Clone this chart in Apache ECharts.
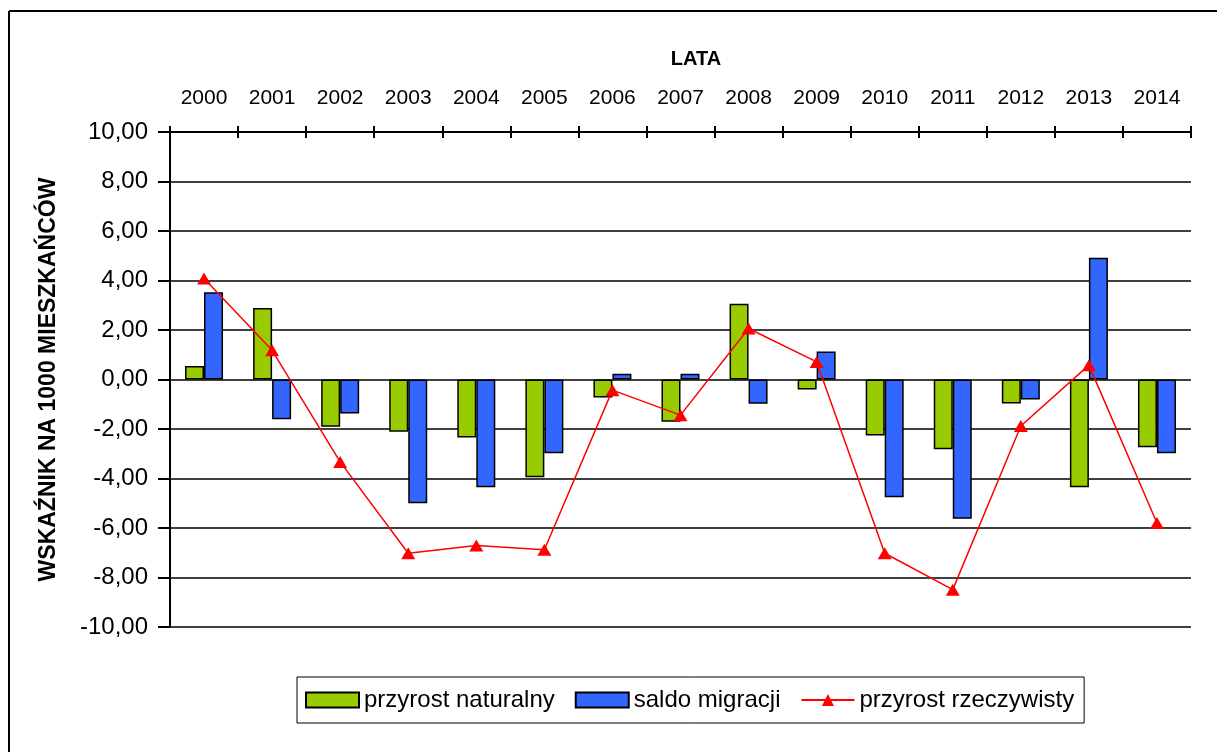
<!DOCTYPE html>
<html>
<head>
<meta charset="utf-8">
<script src="https://cdn.jsdelivr.net/npm/echarts@6/dist/echarts.min.js"></script>
<style>
html,body{margin:0;padding:0;background:#fff;}
#c{width:1217px;height:752px;}
</style>
</head>
<body>
<div id="c"></div>
<script>
const years = ['2000','2001','2002','2003','2004','2005','2006','2007','2008','2009','2010','2011','2012','2013','2014'];
const przyrostNaturalny = [0.55, 2.89, -1.91, -2.11, -2.34, -3.95, -0.73, -1.71, 3.06, -0.40, -2.26, -2.82, -0.97, -4.35, -2.74];
const saldoMigracji = [3.53, -1.61, -1.37, -5.00, -4.35, -2.98, 0.23, 0.23, -0.98, 1.13, -4.76, -5.63, -0.81, 4.92, -2.98];
const przyrostRzeczywisty = [4.08, 1.18, -3.33, -7.02, -6.71, -6.88, -0.43, -1.44, 2.06, 0.71, -7.02, -8.49, -1.88, 0.58, -5.80];
const seriesNames = ['przyrost naturalny', 'saldo migracji', 'przyrost rzeczywisty'];

const FONT = '"Liberation Sans", Arial, sans-serif';
const chart = echarts.init(document.getElementById('c'), null, {renderer: 'canvas'});
const grid = {left: 170, right: 26, top: 132, bottom: 125};

chart.setOption({
  backgroundColor: '#fff',
  animation: false,
  textStyle: {fontFamily: FONT, color: '#000'},
  title: {
    text: 'LATA', left: 691, top: 44, textAlign: 'center',
    textStyle: {fontFamily: FONT, fontWeight: 'bold', fontSize: 20, color: '#000'}
  },
  graphic: [
    {type: 'line', shape: {x1: 9, y1: 11, x2: 1217, y2: 11}, style: {stroke: '#000', lineWidth: 2}},
    {type: 'line', shape: {x1: 9, y1: 11, x2: 9, y2: 752}, style: {stroke: '#000', lineWidth: 2}}
  ],
  grid: grid,
  legend: {
    left: 297, top: 677,
    padding: [11, 10, 11, 8],
    borderColor: '#000', borderWidth: 1,
    itemWidth: 53, itemHeight: 15, itemGap: 20,
    textStyle: {fontFamily: FONT, fontSize: 24, color: '#000'},
    data: [
      {name: seriesNames[0], icon: 'rect'},
      {name: seriesNames[1], icon: 'rect'},
      {name: seriesNames[2]}
    ]
  },
  xAxis: [{
    type: 'category', data: years, position: 'top',
    axisLine: {onZero: false, lineStyle: {color: '#000', width: 2}},
    axisTick: {show: true, length: 6, lineStyle: {color: '#000', width: 2}},
    axisLabel: {fontFamily: FONT, fontSize: 21, color: '#000', margin: 23},
    splitLine: {show: false}
  }, {
    type: 'category', data: years, position: 'top',
    axisLine: {onZero: false, show: false},
    axisTick: {show: true, inside: true, length: 6, lineStyle: {color: '#000', width: 2}},
    axisLabel: {show: false}
  }],
  yAxis: [{
    type: 'value', min: -10, max: 10, interval: 2,
    name: 'WSKAŹNIK NA 1000 MIESZKAŃCÓW', nameLocation: 'middle', nameGap: 110, nameRotate: 90,
    nameTextStyle: {fontFamily: FONT, fontWeight: 'bold', fontSize: 23, color: '#000'},
    axisLine: {show: true, lineStyle: {color: '#000', width: 2}},
    axisTick: {show: true, length: 12, lineStyle: {color: '#000', width: 2}},
    axisLabel: {fontFamily: FONT, fontSize: 24, color: '#000', margin: 22,
      formatter: v => v.toFixed(2).replace('.', ',')},
    splitLine: {show: true, lineStyle: {color: '#000', width: 1.5}}
  }],
  series: [{
    name: seriesNames[0], type: 'bar', data: przyrostNaturalny,
    barWidth: 19, barGap: '0%',
    itemStyle: {color: '#99CC00', borderColor: '#000', borderWidth: 1.5}
  }, {
    name: seriesNames[1], type: 'bar', data: saldoMigracji,
    barWidth: 19, barGap: '0%',
    itemStyle: {color: '#3366FF', borderColor: '#000', borderWidth: 1.5}
  }, {
    name: seriesNames[2], type: 'line', data: przyrostRzeczywisty,
    symbol: 'triangle', symbolSize: [14, 12],
    lineStyle: {color: '#FF0000', width: 1.5},
    itemStyle: {color: '#FF0000'}
  }]
});
</script>
</body>
</html>
